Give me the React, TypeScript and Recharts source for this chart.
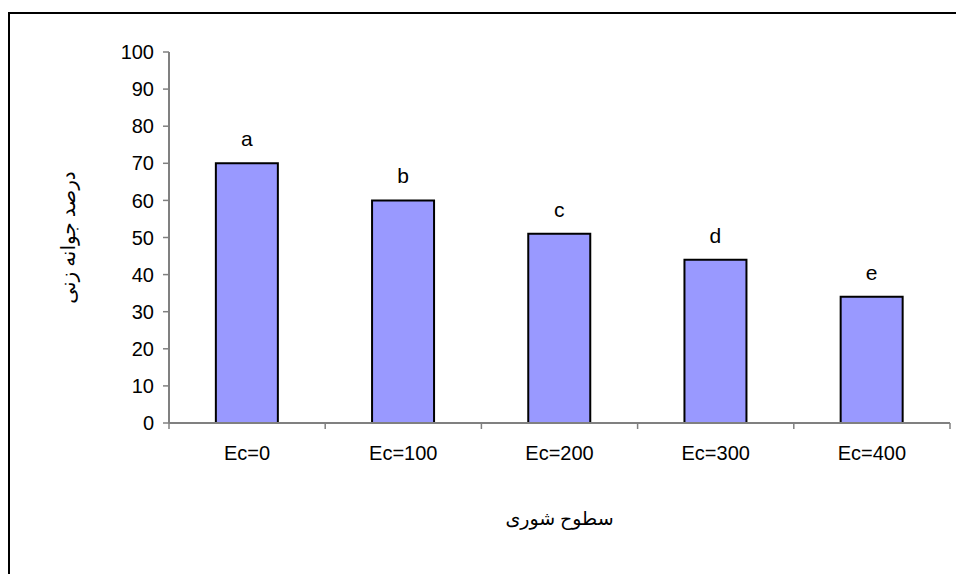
import React from 'react';
import { BarChart, Bar, XAxis, YAxis, LabelList } from 'recharts';

const categories = ['Ec=0', 'Ec=100', 'Ec=200', 'Ec=300', 'Ec=400'];
const germination = [70, 60, 51, 44, 34];
const letters = ['a', 'b', 'c', 'd', 'e'];
const yTicks = [0, 10, 20, 30, 40, 50, 60, 70, 80, 90, 100];

const data = categories.map((c, i) => ({ name: c, value: germination[i], letter: letters[i] }));

const sansFont = 'Arial, "Liberation Sans", sans-serif';
const tickFont = { fontFamily: sansFont, fontSize: 20, fill: '#000' };
const titleFont = '"Times New Roman", "Liberation Serif", "DejaVu Sans", serif';
const X_TICK_MARGIN = 23;

const CategoryTick = (props: any) => {
  const { x, y, payload, index, visibleTicksCount, width } = props;
  const count = visibleTicksCount || categories.length;
  const band = (width || 0) / count;
  const axisY = y - X_TICK_MARGIN;
  const lineStyle = { stroke: '#808080', strokeWidth: 1.5 };
  return (
    <g>
      <line x1={x - band / 2} y1={axisY} x2={x - band / 2} y2={axisY + 6} {...lineStyle} />
      {index === count - 1 && (
        <line x1={x + band / 2} y1={axisY} x2={x + band / 2} y2={axisY + 6} {...lineStyle} />
      )}
      <text x={x} y={y} dy="0.71em" textAnchor="middle" {...tickFont}>
        {payload.value}
      </text>
    </g>
  );
};

export default function App() {
  return (
    <div style={{ position: 'fixed', left: 0, top: 0, width: 956, height: 574, overflow: 'hidden', background: '#fff' }}>
      <div
        style={{
          position: 'absolute',
          left: 8,
          top: 12,
          width: 1000,
          height: 700,
          borderTop: '2px solid #000',
          borderLeft: '2px solid #000',
        }}
      />
      <div style={{ position: 'absolute', left: 0, top: 0 }}>
        <BarChart
          width={956}
          height={574}
          data={data}
          margin={{ top: 52, right: 6, bottom: 0, left: 0 }}
          barCategoryGap="30%"
        >
          <YAxis
            width={169}
            domain={[0, 100]}
            ticks={yTicks}
            interval={0}
            tickSize={6}
            tickMargin={9}
            axisLine={{ stroke: '#808080', strokeWidth: 2 }}
            tickLine={{ stroke: '#808080', strokeWidth: 1.5 }}
            tick={tickFont}
            label={{
              content: (props: any) => {
                const vb = props.viewBox || {};
                const x = (vb.x || 0) + 75;
                const y = (vb.y || 0) + (vb.height || 0) / 2;
                return (
                  <text
                    x={x}
                    y={y}
                    transform={`rotate(-90, ${x}, ${y})`}
                    textAnchor="middle"
                    fontFamily={titleFont}
                    fontSize={20}
                    fill="#000"
                  >
                    درصد جوانه زنی
                  </text>
                );
              },
            }}
          />
          <XAxis
            dataKey="name"
            height={151}
            tickSize={0}
            tickMargin={X_TICK_MARGIN}
            interval={0}
            axisLine={{ stroke: '#808080', strokeWidth: 2 }}
            tickLine={false}
            tick={<CategoryTick />}
            label={{
              content: (props: any) => {
                const vb = props.viewBox || {};
                const x = (vb.x || 0) + (vb.width || 0) / 2;
                const y = (vb.y || 0) + 102;
                return (
                  <text x={x} y={y} textAnchor="middle" fontFamily={titleFont} fontSize={19} fill="#000">
                    سطوح شوری
                  </text>
                );
              },
            }}
          />
          <Bar dataKey="value" fill="#9999FF" stroke="#000" strokeWidth={2} isAnimationActive={false}>
            <LabelList
              dataKey="letter"
              position="top"
              offset={17}
              style={{ fontFamily: sansFont, fontSize: 21, fill: '#000' }}
            />
          </Bar>
        </BarChart>
      </div>
    </div>
  );
}
